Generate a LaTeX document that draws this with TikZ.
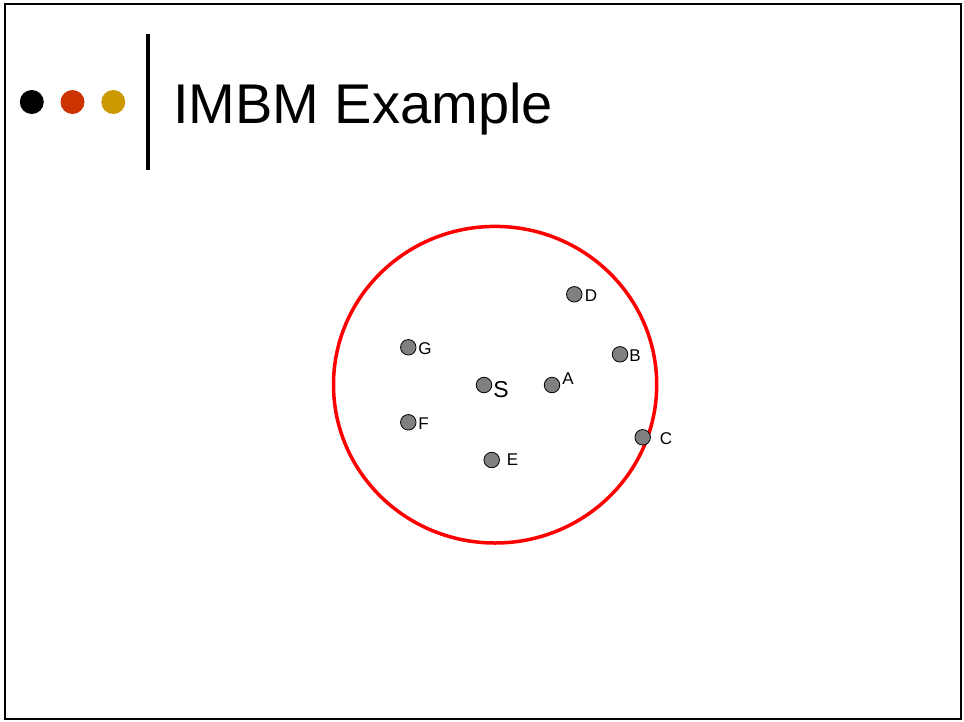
\documentclass[tikz,border=0pt]{standalone}
\usepackage{fontspec}
\setmainfont{Liberation Sans}
\usepackage{xcolor}
\usepackage{tikz}
\usetikzlibrary{calc, positioning}

\definecolor{camdo}{HTML}{CC3300}
\definecolor{vangdam}{HTML}{CC9900}

\begin{document}
\begin{tikzpicture}[x=1pt, y=-1pt,
    diem/.style={circle, draw=black, fill=gray, line width=0.8pt, minimum size=15.5pt, inner sep=0pt},
    nhan/.style={font=\fontsize{17}{17}\selectfont, inner sep=0pt}]
    \useasboundingbox (0,0) rectangle (964,721);

    % 1. Khung ngoài và tiêu đề
    \draw[black, line width=2pt] (5,3.5) rectangle (961,718.5);
    \fill[black] (31.8,102) circle (12pt);
    \fill[camdo] (72.5,102) circle (12pt);
    \fill[vangdam] (113.3,102) circle (12pt);
    \draw[black, line width=4pt] (148,34) -- (148,170);
    \node[anchor=base west, inner sep=0pt, font=\fontsize{56}{60}\selectfont] (tieude) at (173,123.3) {IMBM Example};

    % 2. Đường tròn màu đỏ
    \draw[red, line width=3.5pt] (495.1,384.7) ellipse [x radius=161.6pt, y radius=158.3pt];

    % 3. Các điểm và nhãn
    \node[diem] (D) at (574.3,294.3) {};
    \node[nhan] (labD) at (591,296) {D};
    \node[diem] (G) at (408.3,347.3) {};
    \node[nhan] (labG) at (425,349) {G};
    \node[diem] (B) at (620,354.3) {};
    \node[nhan] (labB) at (635,356) {B};
    \node[diem] (S) at (484,385) {};
    \node[nhan, font=\fontsize{23}{23}\selectfont] (labS) at (501,390) {S};
    \node[diem] (A) at (552,385) {};
    \node[nhan] (labA) at (568,379) {A};
    \node[diem] (F) at (408.3,422.3) {};
    \node[nhan] (labF) at (423.5,424) {F};
    \node[diem] (C) at (642.7,437.3) {};
    \node[nhan] (labC) at (666,439) {C};
    \node[diem] (E) at (491.7,460) {};
    \node[nhan] (labE) at (512.5,460) {E};

\end{tikzpicture}
\end{document}
